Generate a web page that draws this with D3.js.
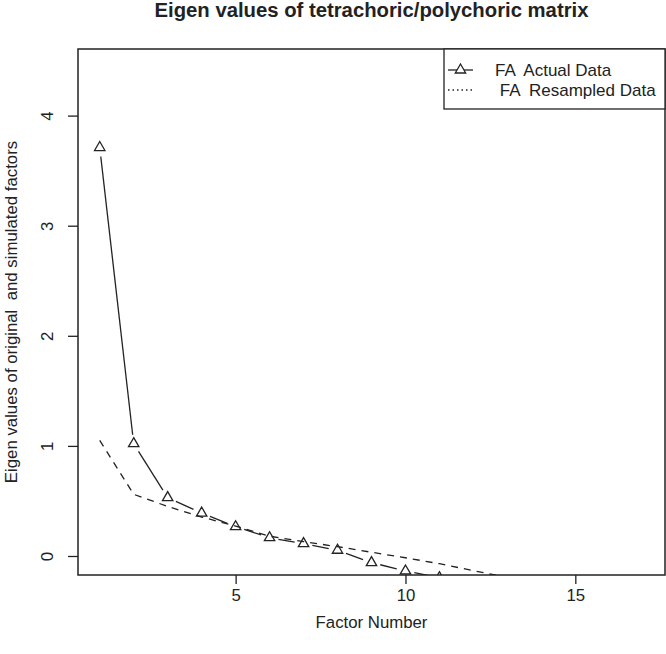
<!DOCTYPE html>
<html>
<head>
<meta charset="utf-8">
<script src="https://cdn.jsdelivr.net/npm/d3@7"></script>
<style>
  html, body { margin: 0; padding: 0; background: #fff; }
  svg { display: block; }
  text { font-family: "Liberation Sans", Arial, Helvetica, sans-serif; fill: #222; white-space: pre; }
</style>
</head>
<body>
<svg id="chart" width="666" height="654"></svg>
<script>
// ---- data ----
const factors = [1, 2, 3, 4, 5, 6, 7, 8, 9, 10, 11, 12, 13, 14, 15, 16, 17];
const actualData = [3.71, 1.02, 0.53, 0.39, 0.266, 0.166, 0.112, 0.052, -0.06, -0.136, -0.197, -0.25, -0.3, -0.35, -0.4, -0.45, -0.5];
const resampledData = [1.05, 0.56, 0.45, 0.354, 0.272, 0.18, 0.13, 0.085, 0.034, -0.016, -0.07, -0.133, -0.195, -0.25, -0.3, -0.35, -0.4];
const xTicks = [5, 10, 15];
const yTicks = [0, 1, 2, 3, 4];
const seriesNames = ["FA  Actual Data", " FA  Resampled Data"];
const titleText = "Eigen values of tetrachoric/polychoric matrix";
const xTitle = "Factor Number";
const yTitle = "Eigen values of original  and simulated factors";

// ---- layout ----
const plot = { left: 78, right: 665, top: 49, bottom: 575 };
const ink = "#222";
const svg = d3.select("#chart");

const x = d3.scaleLinear().domain([0.36, 17.64]).range([plot.left, plot.right]);
const y = d3.scaleLinear().domain([-0.1726, 4.605]).range([plot.bottom, plot.top]);

svg.append("defs").append("clipPath").attr("id", "clip")
  .append("rect").attr("x", plot.left).attr("y", plot.top)
  .attr("width", plot.right - plot.left).attr("height", plot.bottom - plot.top);

const g = svg.append("g").attr("clip-path", "url(#clip)");

// resampled: dashed line
const line = d3.line().x((d, i) => x(factors[i])).y(d => y(d));
g.append("path").datum(resampledData)
  .attr("d", line).attr("fill", "none").attr("stroke", ink)
  .attr("stroke-width", 1.3).attr("stroke-dasharray", "7,6");

// actual: type "b" (lines with gaps around points)
const gap = 9;
for (let i = 0; i < factors.length - 1; i++) {
  const x0 = x(factors[i]), y0 = y(actualData[i]);
  const x1 = x(factors[i + 1]), y1 = y(actualData[i + 1]);
  const len = Math.hypot(x1 - x0, y1 - y0);
  if (len <= 2 * gap) continue;
  const ux = (x1 - x0) / len, uy = (y1 - y0) / len;
  g.append("line")
    .attr("x1", x0 + ux * gap).attr("y1", y0 + uy * gap)
    .attr("x2", x1 - ux * gap).attr("y2", y1 - uy * gap)
    .attr("stroke", ink).attr("stroke-width", 1.3);
}
const tri = r => `M0,${-r}L${0.866 * r},${r / 2}L${-0.866 * r},${r / 2}Z`;
g.selectAll("path.pt").data(actualData).enter().append("path")
  .attr("class", "pt")
  .attr("transform", (d, i) => `translate(${x(factors[i])},${y(d)})`)
  .attr("d", tri(6)).attr("fill", "none").attr("stroke", ink).attr("stroke-width", 1.3);

// box
svg.append("rect").attr("x", plot.left).attr("y", plot.top)
  .attr("width", plot.right - plot.left).attr("height", plot.bottom - plot.top)
  .attr("fill", "none").attr("stroke", ink).attr("stroke-width", 1.5);

// x axis
const xAxis = d3.axisBottom(x).tickValues(xTicks).tickSize(9).tickPadding(5).tickFormat(d3.format("d"));
const gx = svg.append("g").attr("transform", `translate(0,${plot.bottom})`).call(xAxis);
gx.select(".domain").remove();
gx.selectAll("line").attr("stroke", ink).attr("stroke-width", 1.3);
gx.selectAll("text").attr("font-size", 16.8).attr("fill", ink)
  .attr("font-family", "Liberation Sans, Arial, sans-serif");

// y axis (labels parallel to axis)
const yAxis = d3.axisLeft(y).tickValues(yTicks).tickSize(10).tickFormat(d3.format("d"));
const gy = svg.append("g").attr("transform", `translate(${plot.left},0)`).call(yAxis);
gy.select(".domain").remove();
gy.selectAll("line").attr("stroke", ink).attr("stroke-width", 1.3);
gy.selectAll("text")
  .attr("x", null).attr("dy", null)
  .attr("transform", "translate(-25,0) rotate(-90)")
  .attr("text-anchor", "middle").attr("y", 0)
  .attr("font-size", 16.8).attr("fill", ink)
  .attr("font-family", "Liberation Sans, Arial, sans-serif");

// titles
const cx = (plot.left + plot.right) / 2;
svg.append("text").attr("x", cx).attr("y", 17).attr("text-anchor", "middle")
  .attr("font-size", 20.3).attr("font-weight", "bold").text(titleText);
svg.append("text").attr("x", cx).attr("y", 628).attr("text-anchor", "middle")
  .attr("font-size", 16.8).text(xTitle);
svg.append("text").attr("transform", `translate(17,${(plot.top + plot.bottom) / 2}) rotate(-90)`)
  .attr("text-anchor", "middle").attr("font-size", 16.8).text(yTitle);

// legend
const lg = svg.append("g");
lg.append("rect").attr("x", 444).attr("y", plot.top).attr("width", plot.right - 444).attr("height", 60)
  .attr("fill", "#fff").attr("stroke", ink).attr("stroke-width", 1.3);
const rows = [70, 90];
lg.append("line").attr("x1", 448).attr("x2", 473).attr("y1", rows[0]).attr("y2", rows[0])
  .attr("stroke", ink).attr("stroke-width", 1.3);
lg.append("path").attr("transform", `translate(460.5,${rows[0]})`).attr("d", tri(6))
  .attr("fill", "#fff").attr("stroke", ink).attr("stroke-width", 1.3);
lg.append("line").attr("x1", 448).attr("x2", 473).attr("y1", rows[1]).attr("y2", rows[1])
  .attr("stroke", ink).attr("stroke-width", 1.3).attr("stroke-dasharray", "1.5,3");
seriesNames.forEach((s, i) => {
  lg.append("text").attr("x", 495).attr("y", rows[i] + 6).attr("font-size", 17).text(s);
});
</script>
</body>
</html>
